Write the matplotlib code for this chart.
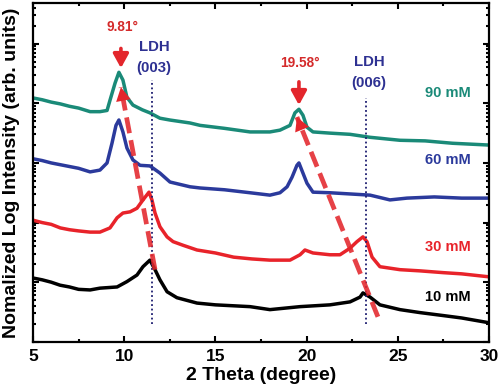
import numpy as np
import matplotlib
matplotlib.use("Agg")
import matplotlib.pyplot as plt
from matplotlib.ticker import LogLocator, NullFormatter, MultipleLocator

plt.rcParams['font.family'] = ['Liberation Sans', 'DejaVu Sans']
plt.rcParams['font.weight'] = 'bold'

# XRD patterns, x in 2theta (deg), y as log10 of intensity (arb.)
x_90 = [5.0, 5.5, 6.0, 6.5, 7.0, 7.5, 8.13, 8.67, 9.06, 9.22, 9.50, 9.71, 9.93, 10.15,
        10.48, 11.0, 11.41, 11.96, 12.5, 13.61, 14.16, 15.5, 16.9, 17.99, 18.54, 19.09,
        19.36, 19.58, 19.80, 20.02, 20.35, 21.28, 22.38, 23.48, 25.12, 26.5, 28.0, 30.0]
y_90 = [4.09, 4.06, 4.02, 3.99, 3.95, 3.92, 3.86, 3.86, 3.88, 4.05, 4.34, 4.52, 4.39, 4.10,
        3.97, 3.89, 3.84, 3.75, 3.72, 3.67, 3.63, 3.58, 3.52, 3.52, 3.55, 3.63,
        3.84, 3.90, 3.80, 3.60, 3.52, 3.50, 3.48, 3.43, 3.38, 3.37, 3.33, 3.30]

x_60 = [5.0, 5.5, 6.0, 6.5, 7.0, 7.5, 8.13, 8.67, 9.06, 9.33, 9.55, 9.71, 9.93, 10.15,
        10.48, 10.87, 11.41, 11.96, 12.51, 13.61, 14.16, 15.5, 16.9, 17.99, 18.54, 18.93,
        19.20, 19.47, 19.58, 19.80, 20.02, 20.35, 21.28, 22.38, 23.48, 24.57, 25.5, 27.0,
        28.5, 30.0]
y_60 = [3.07, 3.04, 3.00, 2.97, 2.94, 2.91, 2.85, 2.88, 3.00, 3.33, 3.63, 3.72, 3.52, 3.25,
        3.05, 2.96, 2.95, 2.83, 2.68, 2.60, 2.58, 2.55, 2.50, 2.46, 2.50, 2.60,
        2.76, 2.96, 3.00, 2.83, 2.66, 2.51, 2.50, 2.48, 2.46, 2.38, 2.41, 2.43,
        2.41, 2.41]

x_30 = [5.0, 5.5, 6.0, 6.5, 7.0, 7.5, 8.13, 8.67, 9.22, 9.61, 9.93, 10.32, 10.70, 11.03,
        11.36, 11.52, 11.69, 11.96, 12.35, 12.68, 13.22, 13.99, 15.0, 16.0, 17.0, 17.99,
        19.09, 19.64, 19.91, 20.35, 21.28, 21.83, 22.38, 22.76, 23.09, 23.31, 23.59, 24.02,
        25.12, 26.22, 27.5, 28.5, 30.0]
y_30 = [2.04, 2.00, 1.97, 1.91, 1.88, 1.86, 1.84, 1.84, 1.91, 2.08, 2.16, 2.18, 2.24, 2.38,
        2.51, 2.38, 2.16, 1.93, 1.76, 1.68, 1.62, 1.54, 1.49, 1.42, 1.39, 1.37,
        1.37, 1.46, 1.54, 1.49, 1.46, 1.46, 1.57, 1.68, 1.76, 1.68, 1.42, 1.26,
        1.21, 1.19, 1.16, 1.14, 1.09]

x_10 = [5.0, 5.5, 6.0, 6.48, 7.0, 7.5, 8.13, 8.67, 9.61, 10.15, 10.70, 11.03, 11.41, 11.69,
        11.96, 12.35, 12.89, 13.99, 15.0, 16.9, 17.99, 19.64, 21.28, 22.38, 22.93, 23.09,
        23.48, 24.02, 25.12, 26.22, 27.5, 28.5, 30.0]
y_10 = [1.07, 1.04, 1.00, 0.95, 0.92, 0.88, 0.87, 0.90, 0.92, 1.01, 1.12, 1.26, 1.37, 1.21,
        1.04, 0.84, 0.74, 0.65, 0.62, 0.59, 0.54, 0.59, 0.62, 0.67, 0.75, 0.82,
        0.75, 0.62, 0.54, 0.49, 0.44, 0.40, 0.32]

series = [
    (x_90, y_90, '#1a8a78', '90 mM', 4.17),
    (x_60, y_60, '#2b3a9c', '60 mM', 3.05),
    (x_30, y_30, '#e8232a', '30 mM', 1.59),
    (x_10, y_10, '#000000', '10 mM', 0.75),
]

# guide lines (x, log y)
ldh_x = [11.52, 23.26]
ldh_top = [4.39, 4.09]
ldh_bottom = 0.30
shift_lines = [((11.69, 1.21), (9.82, 4.27)), ((23.91, 0.42), (19.47, 3.77))]
peak_x = [9.82, 19.58]
peak_arrow = [(4.92, 4.59), (4.36, 3.97)]
peak_labels = ['9.81°', '19.58°']
peak_label_pos = [(9.88, 5.28), (19.64, 4.67)]
ldh_labels = ['(003)', '(006)']
ldh_label_x = [11.63, 23.42]
ldh_label_y = [(4.94, 4.59), (4.69, 4.34)]

red = '#e3262c'
navy = '#2e3192'

fig = plt.figure(figsize=(5.0, 3.92), dpi=100)
ax = fig.add_axes([0.066, 0.128, 0.912, 0.864])

for xs, ys, c, lab, ly in series:
    ax.plot(xs, 10 ** np.array(ys), color=c, lw=2.5, solid_joinstyle='round')
    ax.text(27.75, 10 ** ly, lab, color=c, fontsize=10.5, fontweight='bold',
            ha='center', va='center')

for xv, top in zip(ldh_x, ldh_top):
    ax.plot([xv, xv], [10 ** ldh_bottom, 10 ** top], color='#1c1c70', lw=1.3, ls=(0, (1, 1.5)))

for (p0, p1) in shift_lines:
    ax.plot([p0[0], p1[0]], [10 ** p0[1], 10 ** p1[1]], color=red, lw=3.4,
            ls=(0, (3.4, 1.5)), alpha=0.88, solid_capstyle='butt')
    # arrow head at the top end
    t = 0.08
    bx = p1[0] + (p0[0] - p1[0]) * t
    by = p1[1] + (p0[1] - p1[1]) * t
    ax.annotate('', xy=(p1[0], 10 ** p1[1]), xytext=(bx, 10 ** by),
                arrowprops=dict(arrowstyle='-|>,head_length=0.7,head_width=0.38',
                                color=red, lw=0, shrinkA=0, shrinkB=0,
                                mutation_scale=14))

for xv, (y0, y1) in zip(peak_x, peak_arrow):
    ax.annotate('', xy=(xv, 10 ** y1), xytext=(xv, 10 ** y0),
                arrowprops=dict(arrowstyle='-|>,head_length=0.6,head_width=0.33',
                                color=red, lw=2.6, shrinkA=0, shrinkB=0,
                                mutation_scale=14))

for lab, (px, py) in zip(peak_labels, peak_label_pos):
    ax.text(px, 10 ** py, lab, color='#d42a2a', fontsize=9.8, fontweight='bold',
            ha='center', va='center')

for lab, xv, (y0, y1) in zip(ldh_labels, ldh_label_x, ldh_label_y):
    ax.text(xv, 10 ** y0, 'LDH', color=navy, fontsize=10.8, fontweight='bold',
            ha='center', va='center')
    ax.text(xv, 10 ** y1, lab, color=navy, fontsize=10.8, fontweight='bold',
            ha='center', va='center')

ax.set_yscale('log')
ax.set_xlim(5, 30)
ax.set_ylim(1, 10 ** 5.68)
ax.xaxis.set_major_locator(MultipleLocator(5))
ax.xaxis.set_minor_locator(MultipleLocator(2.5))
ax.yaxis.set_major_locator(LogLocator(base=10, numticks=10))
ax.yaxis.set_minor_locator(LogLocator(base=10, subs=np.arange(2, 10), numticks=20))
ax.yaxis.set_major_formatter(NullFormatter())
ax.yaxis.set_minor_formatter(NullFormatter())
ax.tick_params(which='both', direction='in', top=True, right=True, width=1.5)
ax.tick_params(which='major', length=4.5, labelsize=12.5, pad=5)
ax.tick_params(which='minor', length=2.5)
for lbl in ax.get_xticklabels():
    lbl.set_fontweight('bold')
for s in ax.spines.values():
    s.set_linewidth(1.6)

ax.set_xlabel('2 Theta (degree)', fontsize=14, fontweight='bold', labelpad=2)
ax.set_ylabel('Nomalized Log Intensity (arb. units)', fontsize=14, fontweight='bold', labelpad=4)

fig.savefig('out.png', dpi=100)
